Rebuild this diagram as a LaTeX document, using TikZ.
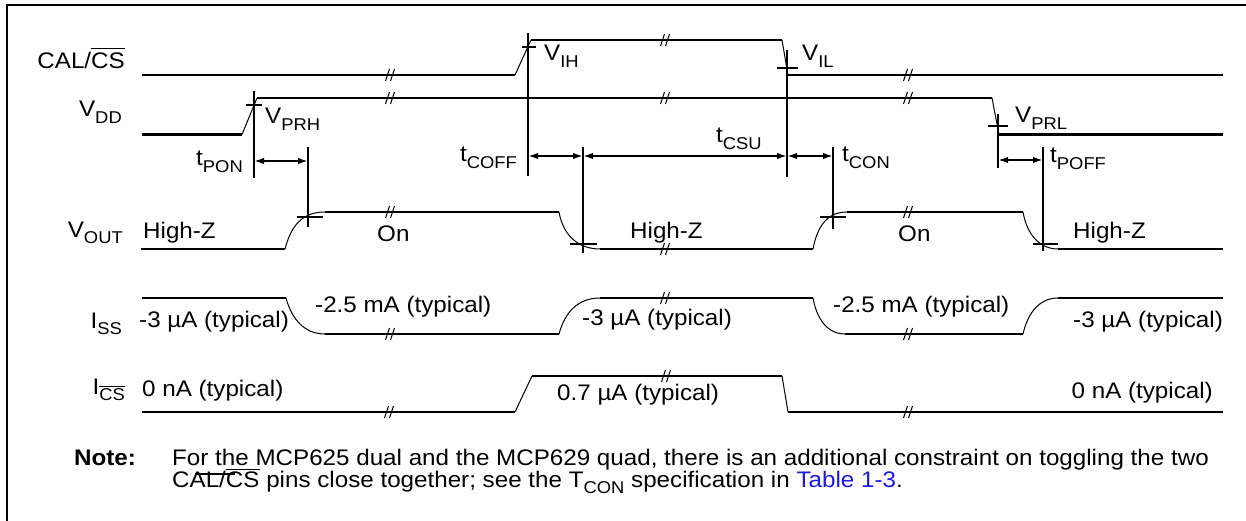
\documentclass[tikz,border=0pt]{standalone}
\usepackage{fontspec}
\usepackage{graphicx}
\setmainfont{Liberation Sans}[FakeStretch=1.075]
\usetikzlibrary{arrows.meta}
\definecolor{linkblue}{RGB}{25,25,235}
\newcommand\sbs[1]{\raisebox{-0.27em}{\scalebox{0.76}{#1}}}
\newsavebox\ovlbox
\newcommand\ovl[2][4pt]{\sbox\ovlbox{#2}\rlap{\raisebox{\dimexpr\ht\ovlbox+#1\relax}{\rule{\wd\ovlbox}{1.3pt}}}\usebox\ovlbox}
\tikzset{
  sig/.style={line width=2.2pt},
  edg/.style={line width=1pt},
  mk/.style={line width=1.9pt},
  brkl/.style={line width=1pt},
  lbl/.style={inner sep=0pt, font=\fontsize{22.5}{26}\selectfont},
  tim/.style={line width=1.9pt, {Latex[length=10pt,width=6.5pt]}-{Latex[length=10pt,width=6.5pt]}},
  frame/.style={line width=2.6pt}
}
\begin{document}
\begin{tikzpicture}[x=1pt,y=-1pt]
\useasboundingbox (0,0) rectangle (1246,521);
% frame
\draw[frame] (1246,5) -- (7,5) -- (7,521);
% CAL/CS
\draw[sig] (142,75) -- (515,75);
\draw[edg] (515,75) -- (531,40);
\draw[sig] (531,40) -- (782,40);
\draw[edg] (782,40) -- (788,75);
\draw[sig] (788,75) -- (1223,75);
% VDD
\draw[sig] (142,134.5) -- (242,134.5);
\draw[edg] (242,134.5) -- (257,98);
\draw[sig] (257,98) -- (992,98);
\draw[edg] (992,98) -- (999,134.5);
\draw[sig] (999,134.5) -- (1223,134.5);
% VOUT
\draw[sig] (141,249) -- (285,249);
\draw[edg] (285,249) .. controls (291,226) and (302,212) .. (325,212);
\draw[sig] (325,212) -- (559,212);
\draw[edg] (559,212) .. controls (563,235) and (578,249) .. (600,249);
\draw[sig] (600,249) -- (813,249);
\draw[edg] (813,249) .. controls (817,228) and (826,212) .. (847,212);
\draw[sig] (847,212) -- (1023,212);
\draw[edg] (1023,212) .. controls (1027,235) and (1040,249) .. (1058,249);
\draw[sig] (1058,249) -- (1223,249);
% ISS
\draw[sig] (142,298) -- (286,298);
\draw[edg] (286,298) .. controls (292,320) and (305,334) .. (325,334);
\draw[sig] (325,334) -- (559,334);
\draw[edg] (559,334) .. controls (565,312) and (578,298) .. (600,298);
\draw[sig] (600,298) -- (813,298);
\draw[edg] (813,298) .. controls (817,320) and (828,334) .. (845,334);
\draw[sig] (845,334) -- (1023,334);
\draw[edg] (1023,334) .. controls (1028,312) and (1040,298) .. (1058,298);
\draw[sig] (1058,298) -- (1223,298);
% ICS
\draw[sig] (142,412) -- (515,412);
\draw[edg] (515,412) -- (532,376);
\draw[sig] (532,376) -- (782,376);
\draw[edg] (782,376) -- (788,412);
\draw[sig] (788,412) -- (1223,412);
% break marks
\foreach \bx/\by in {390/75,665/40,908/75,390/98,665/98,908/98,390/212,665/249,908/212,390/334,665/298,908/334,389/412,666/376,908/412}{
  \draw[brkl] (\bx-4.5,\by+6) -- (\bx-0.5,\by-6);
  \draw[brkl] (\bx+0.5,\by+6) -- (\bx+4.5,\by-6);
}
% threshold markers
\draw[mk] (254,91) -- (254,178);  \draw[mk] (246,105) -- (262,105);
\draw[mk] (528,33) -- (528,176);  \draw[mk] (522,47) -- (536,47);
\draw[mk] (787,50) -- (787,177);  \draw[mk] (777,68) -- (798,68);
\draw[mk] (998,114) -- (998,168); \draw[mk] (988,126) -- (1008,126);
\draw[mk] (308,147) -- (308,227); \draw[mk] (297,217) -- (323,217);
\draw[mk] (583,147) -- (583,253); \draw[mk] (570,244) -- (597,244);
\draw[mk] (833,147) -- (833,229); \draw[mk] (820,217) -- (846,217);
\draw[mk] (1043,147) -- (1043,251); \draw[mk] (1033,244) -- (1058,244);
% timing arrows
\coordinate (a1) at (254,161); \coordinate (a2) at (308,161);
\coordinate (b1) at (528,156); \coordinate (b2) at (583,156);
\coordinate (b3) at (787,156); \coordinate (b4) at (833,156);
\coordinate (c1) at (998,160); \coordinate (c2) at (1043,160);
\draw[tim] (a1) -- (a2);
\draw[tim] (b1) -- (b2);
\draw[tim] (b2) -- (b3);
\draw[tim] (b3) -- (b4);
\draw[tim] (c1) -- (c2);
% labels
\node[lbl, anchor=base east] (calcs) at (125,69) {CAL/\ovl[4pt]{CS}};
\node[lbl, anchor=base east] (vdd) at (122,117) {V\sbs{DD}};
\node[lbl, anchor=base west] (vih) at (544,61) {V\sbs{IH}};
\node[lbl, anchor=base west] (vil) at (802,61) {V\sbs{IL}};
\node[lbl, anchor=base west] (vprh) at (265,124) {V\sbs{PRH}};
\node[lbl, anchor=base west] (vprl) at (1015,123) {V\sbs{PRL}};
\node[lbl, anchor=base east] (tpon) at (243,166) {t\sbs{PON}};
\node[lbl, anchor=base east] (tcoff) at (517,162) {t\sbs{COFF}};
\node[lbl, anchor=base west] (tcsu) at (716,143) {t\sbs{CSU}};
\node[lbl, anchor=base west] (tcon) at (842,162) {t\sbs{CON}};
\node[lbl, anchor=base west] (tpoff) at (1050,163) {t\sbs{POFF}};
\node[lbl, anchor=base east] (vout) at (123,237) {V\sbs{OUT}};
\node[lbl, anchor=base west] (hz1) at (143,238) {High-Z};
\node[lbl, anchor=base west] (on1) at (377,241) {On};
\node[lbl, anchor=base west] (hz2) at (630,238) {High-Z};
\node[lbl, anchor=base west] (on2) at (898,241) {On};
\node[lbl, anchor=base west] (hz3) at (1073,238) {High-Z};
\node[lbl, anchor=base east] (iss) at (122,328) {I\sbs{SS}};
\node[lbl, anchor=base west] (i1) at (139,327) {-3 µA (typical)};
\node[lbl, anchor=base west] (i2) at (315,312) {-2.5 mA (typical)};
\node[lbl, anchor=base west] (i3) at (582,325) {-3 µA (typical)};
\node[lbl, anchor=base west] (i4) at (833,312) {-2.5 mA (typical)};
\node[lbl, anchor=base west] (i5) at (1073,327) {-3 µA (typical)};
\node[lbl, anchor=base east] (ics) at (125,394) {I\sbs{\ovl[2pt]{CS}}};
\node[lbl, anchor=base west] (c0a) at (142,396) {0 nA (typical)};
\node[lbl, anchor=base west] (c07) at (557,400) {0.7 µA (typical)};
\node[lbl, anchor=base east] (c0b) at (1213,398) {0 nA (typical)};
% note
\node[lbl, anchor=base west, font=\fontsize{22.5}{26}\selectfont\bfseries] (note) at (74,465) {Note:};
\node[lbl, anchor=base west] (n1) at (172,465) {For the MCP625 dual and the MCP629 quad, there is an additional constraint on toggling the two};
\node[lbl, anchor=base west] (n2) at (172,487) {CAL/\ovl[1pt]{CS} pins close together; see the T\sbs{CON} specification in \textcolor{linkblue}{Table 1-3}.};
\draw[line width=1.2pt] (195,474) -- (235,474);
\end{tikzpicture}
\end{document}
